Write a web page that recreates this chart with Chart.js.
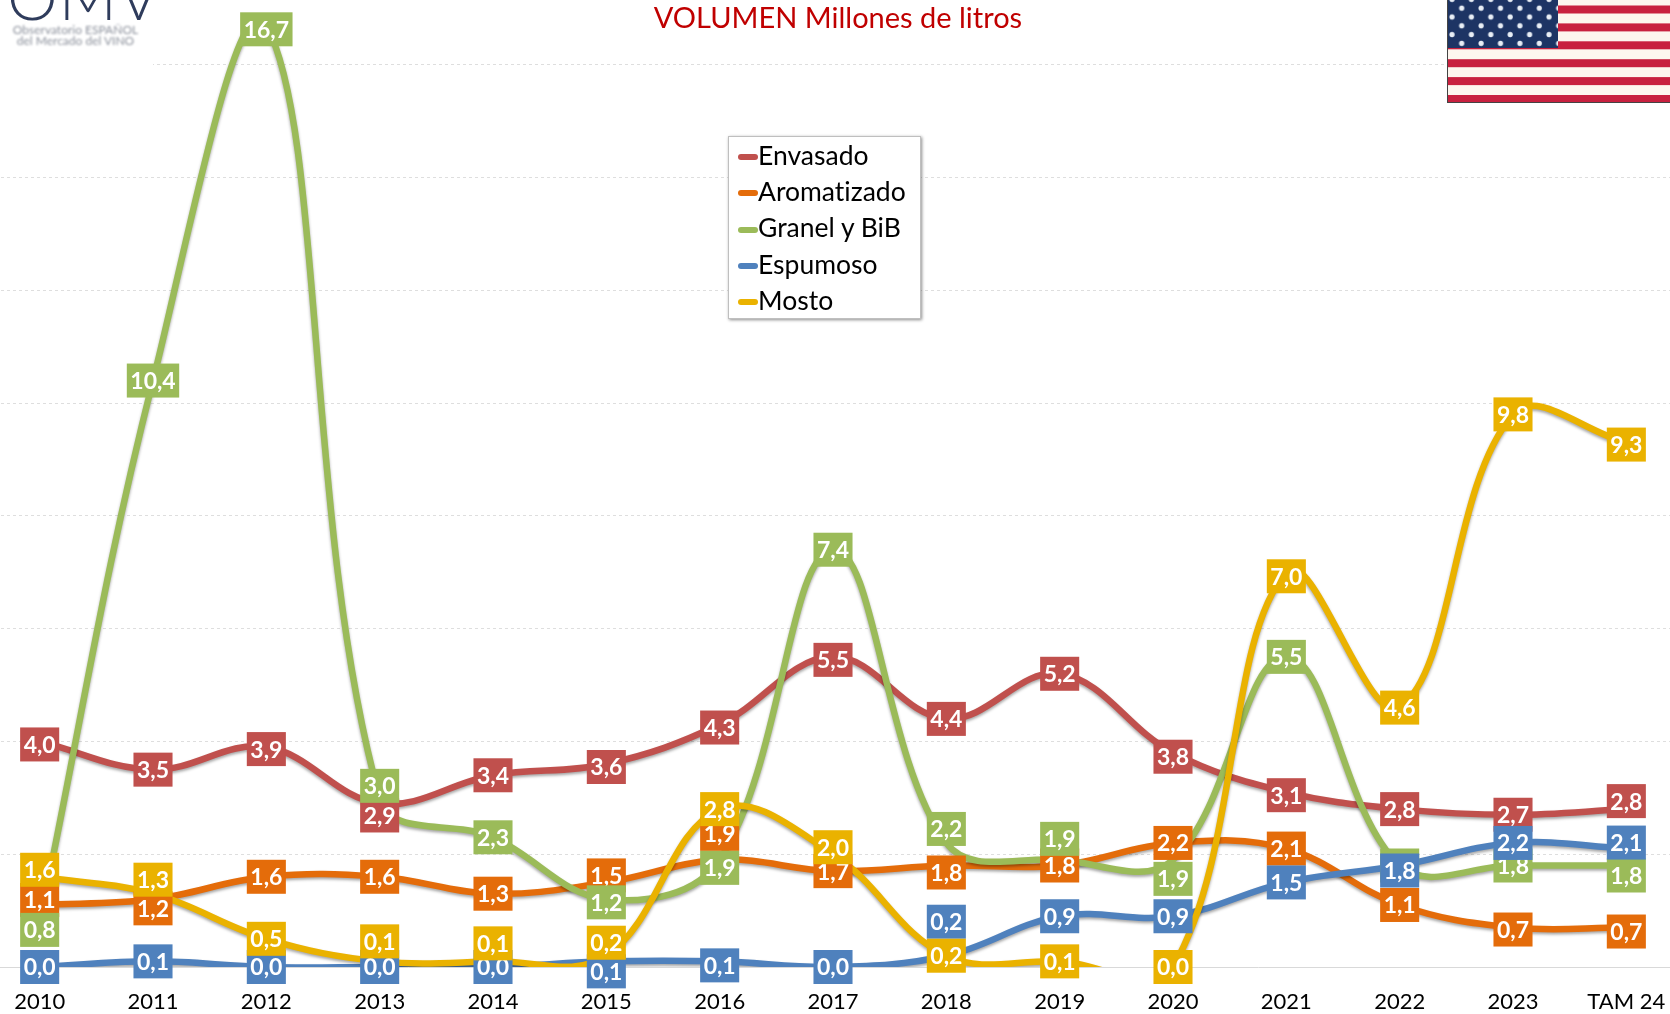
<!DOCTYPE html>
<html>
<head>
<meta charset="utf-8">
<title>VOLUMEN Millones de litros</title>
<script src="https://cdn.jsdelivr.net/npm/chart.js@4"></script>
<style>
html, body { margin: 0; padding: 0; width: 1670px; height: 1014px; overflow: hidden; background: #fff; font-family: Lato, sans-serif; font-variant-ligatures: none; }
#chartCanvas { position: absolute; left: -17px; top: -48px; }
#title { position: absolute; left: 588px; width: 500px; top: 0; text-align: center; font-size: 29px; line-height: 34px; color: #c00000; white-space: nowrap; }
#logo { position: absolute; left: 0; top: 0; width: 153px; height: 66px; background: #fff; }
#logo .big { position: absolute; left: 7px; top: -36px; font-size: 64px; line-height: 64px; font-weight: 300; color: #2f3c5c; letter-spacing: 1px; }
#logo .small { position: absolute; left: 8px; width: 135px; text-align: center; font-size: 12px; line-height: 12px; color: #8a8f9a; filter: blur(1px); white-space: nowrap; }
#flag { position: absolute; left: 1447px; top: 0; filter: blur(0.6px); }
#legend { position: absolute; left: 728px; top: 136px; width: 193px; height: 183px; box-sizing: border-box; border: 1px solid #bfbfbf; box-shadow: 1px 1px 3px rgba(0,0,0,.45); background: #fff; }
#legend .row { position: absolute; left: 9px; height: 36px; line-height: 36px; font-size: 26.5px; color: #000; white-space: nowrap; }
#legend .key { display: inline-block; width: 20px; height: 6px; border-radius: 3px; vertical-align: middle; margin-top: -2px; }
</style>
</head>
<body>
<canvas id="chartCanvas" width="1700" height="1062"></canvas>
<div id="logo">
  <div class="big">OMV</div>
  <div class="small" style="top:24px">Observatorio ESPAÑOL</div>
  <div class="small" style="top:35px">del Mercado del VINO</div>
</div>
<div id="title">VOLUMEN Millones de litros</div>
<svg id="flag" width="223" height="103" viewBox="0 0 223 103">
  <defs>
    <pattern id="stars" width="19.4" height="17.6" patternUnits="userSpaceOnUse" x="0" y="-5">
      <circle cx="5" cy="4.4" r="2.6" fill="#e8eef5"/>
      <circle cx="14.7" cy="13.2" r="2.6" fill="#e8eef5"/>
    </pattern>
  </defs>
  <rect width="223" height="103" fill="#fdf6ee"/>
  <g id="stripes" fill="#c8213f"></g>
  <rect width="111" height="48" fill="#1d3464"/>
  <rect width="111" height="48" fill="url(#stars)"/>
  <rect x="0" y="102" width="223" height="1" fill="#444"/>
  <rect x="0" y="0" width="1" height="103" fill="#444"/>
</svg>
<div id="legend"></div>
<script>
const categories = ['2010', '2011', '2012', '2013', '2014', '2015', '2016', '2017', '2018', '2019', '2020', '2021', '2022', '2023', 'TAM 24'];
const envasado = [4.0, 3.5, 3.9, 2.9, 3.4, 3.6, 4.3, 5.5, 4.4, 5.2, 3.8, 3.1, 2.8, 2.7, 2.8];
const aromatizado = [1.1, 1.2, 1.6, 1.6, 1.3, 1.5, 1.9, 1.7, 1.8, 1.8, 2.2, 2.1, 1.1, 0.7, 0.7];
const granel = [0.8, 10.4, 16.7, 3.0, 2.3, 1.2, 1.9, 7.4, 2.2, 1.9, 1.9, 5.5, 1.8, 1.8, 1.8];
const espumoso = [0.0, 0.1, 0.0, 0.0, 0.0, 0.1, 0.1, 0.0, 0.2, 0.9, 0.9, 1.5, 1.8, 2.2, 2.1];
const mosto = [1.6, 1.3, 0.5, 0.1, 0.1, 0.2, 2.8, 2.0, 0.2, 0.1, 0.0, 7.0, 4.6, 9.8, 9.3];

const seriesNames = ['Envasado', 'Aromatizado', 'Granel y BiB', 'Espumoso', 'Mosto'];
const seriesValues = [envasado, aromatizado, granel, espumoso, mosto];
const seriesColors = ['#c0504d', '#e46c0a', '#9bbb59', '#4f81bd', '#eab200'];

// moved data labels, in px from their point: series -> category index -> dy
const labelNudge = [
    { 0: 3, 2: 2, 3: 12, 5: 3, 6: 3, 7: 3, 10: 4, 11: 3, 14: -8 },
    { 0: -5, 1: 9, 5: -7, 6: -26, 8: 7, 13: 2, 14: 4 },
    { 0: 8, 2: 4, 3: -12, 5: 3, 6: 8, 8: -14, 9: -21, 10: 19, 14: 10 },
    { 5: 10, 6: 4, 8: -34, 12: 5, 14: -6 },
    { 0: -7, 1: -14, 3: -20, 4: -18, 5: -13, 7: -7, 11: 4, 14: 2 }
];

// flag stripes
const stripes = document.getElementById('stripes');
for (let i = 0; i < 6; i++) {
    const r = document.createElementNS('http://www.w3.org/2000/svg', 'rect');
    r.setAttribute('x', 0);
    r.setAttribute('y', 95 - i * 17.9);
    r.setAttribute('width', 223);
    r.setAttribute('height', 8);
    stripes.appendChild(r);
}

// legend box
const legend = document.getElementById('legend');
seriesNames.forEach((name, i) => {
    const row = document.createElement('div');
    row.className = 'row';
    row.style.top = (i * 36.2) + 'px';
    row.innerHTML = `<span class="key" style="background:${seriesColors[i]}"></span>${name}`;
    legend.appendChild(row);
});

const lineShadow = {
    id: 'lineShadow',
    beforeDatasetDraw(chart) {
        const ctx = chart.ctx;
        ctx.save();
        ctx.shadowColor = 'rgba(0,0,0,0.35)';
        ctx.shadowBlur = 3;
        ctx.shadowOffsetY = 2;
    },
    afterDatasetDraw(chart) {
        chart.ctx.restore();
    }
};

const boxLabels = {
    id: 'boxLabels',
    afterDatasetsDraw(chart) {
        const ctx = chart.ctx;
        ctx.save();
        ctx.font = 'bold 23px Lato, sans-serif';
        ctx.textAlign = 'center';
        ctx.textBaseline = 'middle';
        seriesValues.forEach((values, s) => {
            const meta = chart.getDatasetMeta(s);
            values.forEach((v, i) => {
                const text = v.toFixed(1).replace('.', ',');
                const pt = meta.data[i];
                const y = pt.y + (labelNudge[s][i] || 0);
                const w = ctx.measureText(text).width + 7;
                ctx.fillStyle = seriesColors[s];
                ctx.fillRect(pt.x - w / 2, y - 17, w, 34);
                ctx.fillStyle = '#fff';
                ctx.fillText(text, pt.x, y + 1);
            });
        });
        ctx.restore();
    }
};

new Chart(document.getElementById('chartCanvas'), {
    type: 'line',
    data: {
        labels: categories,
        datasets: seriesNames.map((name, i) => ({
            label: name,
            data: seriesValues[i],
            borderColor: seriesColors[i],
            backgroundColor: seriesColors[i],
            borderWidth: 6.5,
            tension: 0.38,
            capBezierPoints: false,
            pointRadius: 0,
            fill: false,
            order: seriesNames.length - i
        }))
    },
    options: {
        responsive: false,
        animation: false,
        layout: { padding: 0 },
        plugins: {
            legend: { display: false },
            tooltip: { enabled: false }
        },
        scales: {
            x: {
                offset: true,
                afterFit(scale) { scale.height = 47; },
                grid: { display: false },
                border: { display: true, color: '#d9d9d9', width: 1 },
                ticks: {
                    color: '#000',
                    font: { family: 'Lato, sans-serif', size: 22 },
                    padding: 14,
                    maxRotation: 0,
                    autoSkip: false
                }
            },
            y: {
                min: 0,
                max: 18,
                afterFit(scale) { scale.width = 0; },
                grid: { color: '#dedede', lineWidth: 1, drawTicks: false },
                border: { display: false, dash: [3, 3] },
                ticks: { display: false, stepSize: 2 }
            }
        }
    },
    plugins: [lineShadow, boxLabels]
});
</script>
</body>
</html>
